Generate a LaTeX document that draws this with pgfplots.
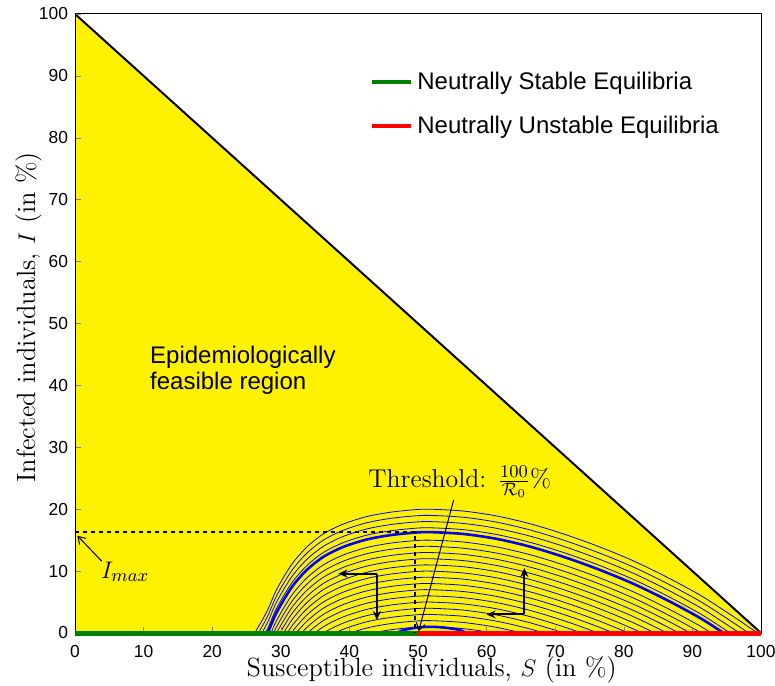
\documentclass[border=0pt]{standalone}
\usepackage{pgfplots}
\pgfplotsset{compat=1.18}
\usepackage{pgfplotstable}
\usepackage{fontspec}
\newfontfamily\arial{Liberation Sans}
\usetikzlibrary{arrows.meta}
\definecolor{mgreen}{rgb}{0,0.5,0}

% thick orbit (S, I in %)
\pgfplotstableread{
S I
25.2 -5.5
25.8 -4.4
26.4 -3.3
27.0 -2.2
27.6 -1.0
28.2 0.3
29.2 2.9
30.4 5.3
31.8 7.7
33.8 10.2
36.2 12.3
39.1 13.9
42.5 15.1
45.9 15.8
49.3 16.2
51.7 16.3
56.6 16.0
61.5 15.2
66.5 13.9
71.5 12.2
76.5 10.2
81.5 7.9
86.5 5.2
91.0 2.5
94.0 0.4
97.0 -1.8
100.0 -4.1
101.0 -4.9
}\base

\begin{document}
\begin{tikzpicture}
\begin{axis}[name=main,
  width=343pt, height=309.5pt, scale only axis,
  xmin=0, xmax=100, ymin=0, ymax=100,
  xtick={0,10,...,100}, ytick={0,10,...,100},
  tick pos=left, tick align=inside, major tick length=3pt,
  axis on top,
  axis line style={line width=0.5pt},
  /pgf/number format/assume math mode=true,
  tick label style={font=\arial\fontsize{8.7}{10}\selectfont},
  xticklabel style={yshift=-2.5pt},
  xlabel={Susceptible individuals, $S$ (in \%)},
  ylabel={Infected individuals, $I$ (in \%)},
  every axis x label/.style={at={(axis description cs:0.52,-0.0695)}, anchor=base,
    font=\fontsize{13.2}{15}\selectfont},
  every axis y label/.style={at={(axis description cs:-0.0583,0.51)}, anchor=base, rotate=90,
    font=\fontsize{13.2}{15}\selectfont},
]
\addplot[fill=yellow, draw=none] coordinates {(0,0) (100,0) (0,100)} \closedcycle;
\pgfplotsinvokeforeach{1,2,...,15,17,18,19,20}{
  \addplot[blue, line width=0.4pt, smooth] table[x=S, y expr=\thisrow{I}+#1-16.3] {\base};
}
\addplot[blue, line width=1.3pt, smooth] table[x=S, y=I] {\base};
\addplot[blue, line width=1.3pt, smooth] coordinates {(46.5,-0.2) (48,0.5) (50,0.9) (52,1.0) (54,0.85) (56,0.5) (57.5,-0.2)};
\addplot[black, line width=1pt] coordinates {(0,100) (100,0)};
\end{axis}

\begin{axis}[
  width=343pt, height=309.5pt, scale only axis,
  xmin=0, xmax=100, ymin=0, ymax=100,
  hide axis, clip=false,
  legend style={at={(rel axis cs:0.43,0.914)}, anchor=north west, draw=none, fill=none,
    inner sep=0pt, row sep=8pt, font=\arial\fontsize{12}{14}\selectfont},
  legend cell align=left,
  legend image code/.code={\draw[#1, line width=2pt] (0pt,0pt) -- (19.5pt,0pt);},
]
\addplot[mgreen, line width=2.5pt] coordinates {(0,0) (50,0)};
\addlegendentry{Neutrally Stable Equilibria}
\addplot[red, line width=2.5pt] coordinates {(50,0) (100,0)};
\addlegendentry{Neutrally Unstable Equilibria}

\draw[black, line width=0.9pt, dash pattern=on 2.2pt off 1.8pt] (axis cs:0,16.27) -- (axis cs:49.6,16.27) -- (axis cs:49.6,0);
\draw[black, line width=0.5pt, -{Straight Barb[length=3.5pt,width=4.5pt]}] (axis cs:55.2,21.5) -- (axis cs:50.1,0.3);
\draw[black, line width=0.5pt, -{Straight Barb[length=3.5pt,width=4.5pt]}] (axis cs:3.9,11.6) -- (axis cs:0.35,15.7);
\draw[black, line width=1pt, -{Stealth[length=4.5pt,width=4pt]}] (axis cs:44.0,9.6) -- (axis cs:38.4,9.6);
\draw[black, line width=1pt, -{Stealth[length=4.5pt,width=4pt]}] (axis cs:44.0,9.6) -- (axis cs:44.0,2.1);
\draw[black, line width=1pt, -{Stealth[length=4.5pt,width=4pt]}] (axis cs:65.5,3.0) -- (axis cs:60.0,3.0);
\draw[black, line width=1pt, -{Stealth[length=4.5pt,width=4pt]}] (axis cs:65.5,3.0) -- (axis cs:65.5,10.5);

\node[font=\fontsize{12.9}{15}\selectfont] at (axis cs:56.1,24.4) {Threshold: $\frac{100}{\mathcal{R}_0}\%$};
\node[font=\fontsize{12.8}{15}\selectfont] at (axis cs:7.3,9.9) {$I_{max}$};
\node[anchor=west, align=left, inner sep=0pt, font=\arial\fontsize{12}{13}\selectfont] at (axis cs:10.9,42.4) {Epidemiologically\\feasible region};
\end{axis}
\pgfresetboundingbox
\path ([shift={(-37.5pt,-26pt)}]main.south west) rectangle ([shift={(7pt,7pt)}]main.north east);
\end{tikzpicture}
\end{document}
